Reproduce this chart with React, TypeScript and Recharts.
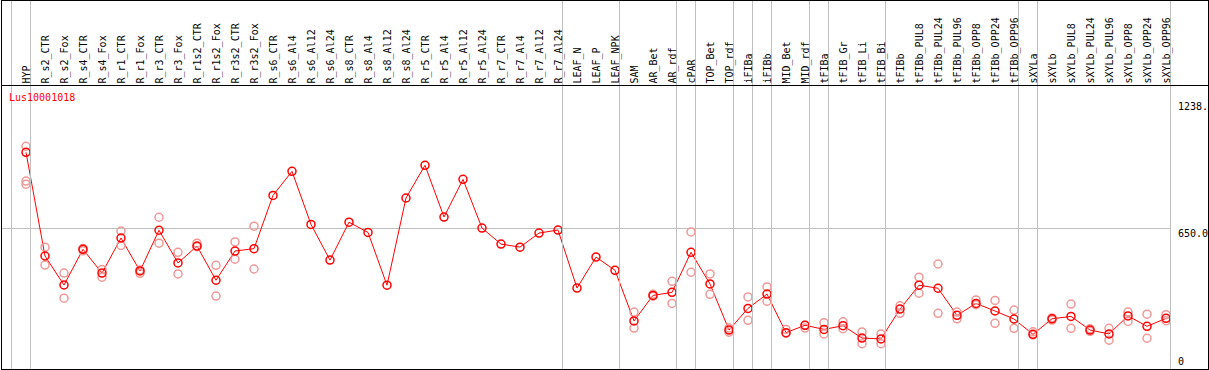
import React from 'react';
import { ComposedChart, Line, XAxis, YAxis, ReferenceLine } from 'recharts';

const categories = [
  'HYP', 'R_s2_CTR', 'R_s2_Fox', 'R_s4_CTR', 'R_s4_Fox', 'R_r1_CTR', 'R_r1_Fox', 'R_r3_CTR', 'R_r3_Fox',
  'R_r1s2_CTR', 'R_r1s2_Fox', 'R_r3s2_CTR', 'R_r3s2_Fox', 'R_s6_CTR', 'R_s6_Al4', 'R_s6_Al12', 'R_s6_Al24',
  'R_s8_CTR', 'R_s8_Al4', 'R_s8_Al12', 'R_s8_Al24', 'R_r5_CTR', 'R_r5_Al4', 'R_r5_Al12', 'R_r5_Al24',
  'R_r7_CTR', 'R_r7_Al4', 'R_r7_Al12', 'R_r7_Al24', 'LEAF_N', 'LEAF_P', 'LEAF_NPK', 'SAM', 'AR_Bet', 'AR_rdf',
  'cPAR', 'TOP_Bet', 'TOP_rdf', 'iFIBa', 'iFIBb', 'MID_Bet', 'MID_rdf', 'tFIBa', 'tFIB_Gr', 'tFIB_Li', 'tFIB_Bi',
  'tFIBb', 'tFIBb_PUL8', 'tFIBb_PUL24', 'tFIBb_PUL96', 'tFIBb_OPP8', 'tFIBb_OPP24', 'tFIBb_OPP96',
  'sXYLa', 'sXYLb', 'sXYLb_PUL8', 'sXYLb_PUL24', 'sXYLb_PUL96', 'sXYLb_OPP8', 'sXYLb_OPP24', 'sXYLb_OPP96',
];

// mean expression per sample
const meanValues = [
  1001, 522, 388, 553, 443, 605, 453, 641, 490, 568, 410, 545, 556, 802, 913, 668, 503,
  678, 631, 387, 790, 941, 702, 876, 651, 577, 563, 628, 642, 374, 517, 456, 222, 340, 354,
  539, 393, 180, 280, 346, 168, 202, 183, 200, 143, 139, 277, 387, 373, 248, 303, 268, 231,
  160, 232, 243, 180, 162, 245, 197, 234,
];

// replicate values (null = no replicate shown)
const rep1 = [
  1029, 563, 443, 557, 460, 637, 457, 701, 539, 581, 479, 587, 660, null, null, null, null,
  null, null, null, null, null, null, null, null, null, null, null, null, null, null, null, 263, 345, 405,
  633, 439, 189, 333, 379, 183, 202, 214, 218, 171, 162, 292, 424, 485, 263, 319, 317, 272,
  172, 236, 300, 186, 188, 263, 253, 251,
];
const rep2 = [
  868, 480, 327, 546, 424, 571, 442, 581, 439, 565, 337, 507, 462, null, null, null, null,
  null, null, null, null, null, null, null, null, null, null, null, null, null, null, null, 189, 336, 303,
  447, 345, 170, 225, 313, 165, 189, 162, 186, 117, 117, 257, 350, 257, 232, 297, 211, 188,
  157, 226, 188, 174, 133, 220, 142, 223,
];
const rep3 = [854];

const yTickValues = [0, 650, 1238];
const yTickLabels = ['0', '650.0', '1238.'];

// groups end after these samples (plus one divider before the first)
const groupEnds = [
  'HYP', 'R_r7_Al24', 'LEAF_NPK', 'AR_rdf', 'cPAR', 'TOP_rdf', 'iFIBa', 'iFIBb',
  'MID_rdf', 'tFIBa', 'tFIB_Bi', 'tFIBb_OPP96', 'sXYLa', 'sXYLb_OPP96',
];

const title = 'Lus10001018';

const data = categories.map((name, i) => ({
  idx: i,
  name,
  mean: meanValues[i],
  rep1: rep1[i] ?? null,
  rep2: rep2[i] ?? null,
  rep3: rep3[i] ?? null,
}));

const font = '"DejaVu Sans Mono", monospace';
const GRID = '#c0c0c0';

// label + group divider lines, placed from the axis tick position
const TopTick = (props: any) => {
  const { x, payload } = props;
  const name = categories[Number(payload.value)];
  const isEnd = groupEnds.includes(name);
  return (
    <g>
      {isEnd ? <line x1={x + 4.5} x2={x + 4.5} y1={0} y2={369} stroke={GRID} strokeWidth={1} /> : null}
      <text
        transform={`translate(${x + 4},83.5) rotate(-90)`}
        fontFamily={font}
        fontSize={10}
        fill="#000"
        textAnchor="start"
      >
        {name}
      </text>
    </g>
  );
};

const RightTick = (props: any) => {
  const { x, y, payload } = props;
  const i = yTickValues.indexOf(Number(payload.value));
  return (
    <text x={x} y={y + (i === 0 ? -4 : 9)} fontFamily={font} fontSize={10} fill="#000">
      {yTickLabels[i]}
    </text>
  );
};

const App: React.FC = () => {
  const repDot = { r: 4, stroke: '#f09898', strokeWidth: 1.5, fill: 'none' };
  return (
    <div style={{ position: 'absolute', left: 0, top: 0, width: 1209, height: 370, background: '#fff' }}>
      <ComposedChart width={1209} height={370} data={data} margin={{ top: 0, right: 0, bottom: 1, left: 1 }}>
        <XAxis
          dataKey="idx"
          type="number"
          orientation="top"
          height={1}
          domain={[-25 / 19, 60 + 4 / 19]}
          allowDataOverflow
          ticks={categories.map((_, i) => i)}
          interval={0}
          axisLine={false}
          tickLine={false}
          tick={<TopTick />}
        />
        <YAxis
          orientation="right"
          width={39}
          domain={[0, 1700]}
          allowDataOverflow
          ticks={yTickValues}
          interval={0}
          axisLine={false}
          tickLine={false}
          tickSize={0}
          tickMargin={8}
          tick={<RightTick />}
        />
        <ReferenceLine y={650} stroke={GRID} strokeWidth={1} shapeRendering="crispEdges" />
        <Line dataKey="rep1" stroke="none" dot={repDot} activeDot={false} isAnimationActive={false} />
        <Line dataKey="rep2" stroke="none" dot={repDot} activeDot={false} isAnimationActive={false} />
        <Line dataKey="rep3" stroke="none" dot={repDot} activeDot={false} isAnimationActive={false} />
        <Line
          dataKey="mean"
          stroke="#ff0000"
          strokeWidth={1}
          dot={{ r: 4, stroke: '#ff0000', strokeWidth: 1.5, fill: 'none' }}
          activeDot={false}
          isAnimationActive={false}
        />
      </ComposedChart>
      <svg width={1209} height={370} style={{ position: 'absolute', left: 0, top: 0, pointerEvents: 'none' }}>
        {/* divider before the first sample */}
        <rect x={11} y={0} width={1} height={369} fill={GRID} />
        <g stroke="#000" strokeWidth={1} shapeRendering="crispEdges">
          <line x1={1.5} y1={0.5} x2={1208.5} y2={0.5} />
          <line x1={1.5} y1={85.5} x2={1208.5} y2={85.5} />
          <line x1={1.5} y1={369.5} x2={1208.5} y2={369.5} />
          <line x1={1.5} y1={0} x2={1.5} y2={370} />
          <line x1={1208.5} y1={0} x2={1208.5} y2={370} />
        </g>
        <text x={9} y={101} fontFamily={font} fontSize={10} fill="#ff0000">
          {title}
        </text>
      </svg>
    </div>
  );
};

export default App;
